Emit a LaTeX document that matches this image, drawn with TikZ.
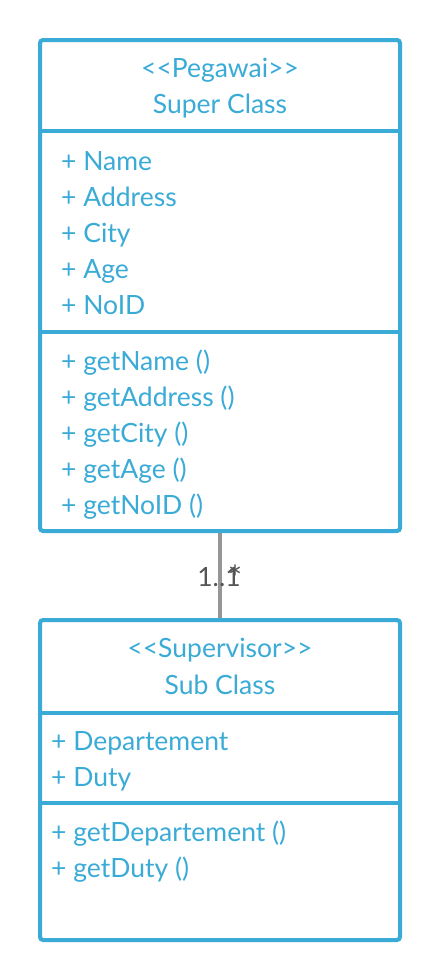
\documentclass[tikz,border=0pt]{standalone}
\usepackage{fontspec}
\setmainfont[Ligatures=NoCommon]{Lato}
\definecolor{umlblue}{RGB}{58,171,214}
\definecolor{linkgray}{RGB}{150,150,150}
\definecolor{labelgray}{RGB}{85,85,85}
\begin{document}
\begin{tikzpicture}[x=1pt,y=-1pt,
  classbox/.style={draw=umlblue, line width=4pt, rounded corners=3pt, fill=white, inner sep=0pt},
  divider/.style={draw=umlblue, line width=4pt},
  txt/.style={text=umlblue, font=\fontsize{26.5}{30}\selectfont, inner sep=0pt},
  member/.style={txt, anchor=base west},
  head/.style={txt, anchor=base},
  link/.style={draw=linkgray, line width=3.5pt},
  mult/.style={text=labelgray, font=\fontsize{26.5}{30}\selectfont, inner sep=0pt, anchor=base}]
\useasboundingbox (0,0) rectangle (440,980);

% Super class
\node[classbox, minimum width=360pt, minimum height=491pt] (super) at (220,285.5) {};
\coordinate (s1l) at (40,131); \coordinate (s1r) at (400,131);
\coordinate (s2l) at (40,332); \coordinate (s2r) at (400,332);
\draw[divider] (s1l) -- (s1r);
\draw[divider] (s2l) -- (s2r);
\node[head] (sst) at (220,77) {<{}<Pegawai>{}>};
\node[head] (sname) at (220,113) {Super Class};
\node[member] (a1) at (61,170) {+ Name};
\node[member] (a2) at (61,206) {+ Address};
\node[member] (a3) at (61,242) {+ City};
\node[member] (a4) at (61,278) {+ Age};
\node[member] (a5) at (61,314) {+ NoID};
\node[member] (m1) at (61,370) {+ getName ()};
\node[member] (m2) at (61,406) {+ getAddress ()};
\node[member] (m3) at (61,442) {+ getCity ()};
\node[member] (m4) at (61,478) {+ getAge ()};
\node[member] (m5) at (61,514) {+ getNoID ()};

% Sub class
\node[classbox, minimum width=360pt, minimum height=320pt] (sub) at (220,780) {};
\coordinate (b1l) at (40,713); \coordinate (b1r) at (400,713);
\coordinate (b2l) at (40,803); \coordinate (b2r) at (400,803);
\draw[divider] (b1l) -- (b1r);
\draw[divider] (b2l) -- (b2r);
\node[head] (bst) at (220,657) {<{}<Supervisor>{}>};
\node[head] (bname) at (220,694) {Sub Class};
\node[member] (ba1) at (51,750) {+ Departement};
\node[member] (ba2) at (51,786) {+ Duty};
\node[member] (bm1) at (51,841) {+ getDepartement ()};
\node[member] (bm2) at (51,877) {+ getDuty ()};

% Connector
\draw[link] (super.south) -- (sub.north);
\node[mult] (mul1) at (219,586) {1..1};
\node[mult, font=\fontsize{34}{36}\selectfont] (mul2) at (235,590) {*};
\end{tikzpicture}
\end{document}
